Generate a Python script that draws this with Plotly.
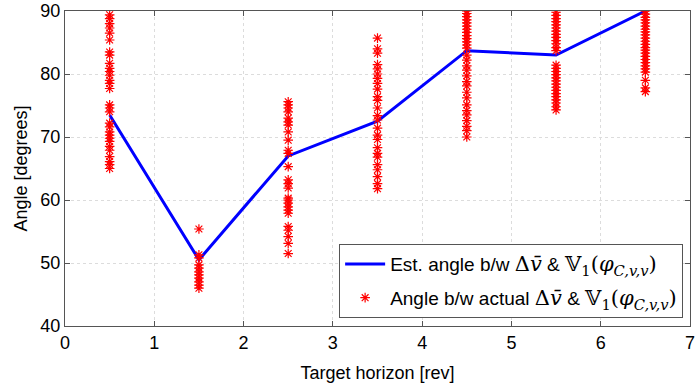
import plotly.graph_objects as go

# Target horizons (rev) and the estimated angle at each one
horizon = [0.5, 1.5, 2.5, 3.5, 4.5, 5.5, 6.5]
est_angle = [73.5, 50.5, 67.0, 72.5, 83.7, 83.0, 90.0]

# Actual angles observed at each horizon (degrees)
actual_h05 = [89.4, 88.8, 88.0, 87.3, 86.5, 85.4, 83.5, 83.0, 81.7, 80.9, 80.4, 79.8,
              79.0, 78.5, 77.7, 75.1, 74.6, 74.0, 72.2, 71.6, 70.8, 70.3, 69.8, 69.3,
              68.5, 67.9, 66.9, 66.1, 65.6, 65.0]
actual_h15 = [51.3, 50.8, 49.7, 49.2, 48.6, 48.1, 47.6, 47.0, 46.5, 46.0, 55.4]
actual_h25 = [75.6, 75.1, 74.6, 74.0, 73.0, 72.4, 71.9, 70.8, 69.5, 67.9, 67.4, 65.3,
              63.2, 62.6, 61.9, 60.3, 60.0, 59.5, 58.9, 58.4, 57.9, 55.8, 55.2, 54.2,
              53.1, 51.5]
actual_h35 = [85.7, 84.0, 83.3, 81.5, 80.8, 80.0, 79.3, 78.5, 77.6, 76.4, 75.8, 74.6,
              73.4, 72.7, 71.4, 70.3, 69.6, 68.3, 67.4, 66.8, 65.6, 64.8, 63.7, 62.6,
              61.8]
actual_h45 = [90.0, 89.6, 89.1, 88.6, 88.1, 87.6, 87.1, 86.6, 86.1, 85.6, 85.1, 84.6,
              84.1, 83.0, 82.2, 81.3, 80.6, 79.7, 78.8, 78.1, 77.1, 76.2, 75.1, 74.2,
              73.5, 72.6, 71.7, 71.0, 70.0]
actual_h55 = [89.8, 89.3, 88.8, 88.3, 87.8, 87.3, 86.8, 86.3, 85.8, 85.3, 84.8, 84.2,
              83.7, 81.4, 80.9, 80.4, 79.9, 79.4, 78.9, 78.4, 77.9, 77.4, 76.9, 76.4,
              75.9, 75.4, 74.8, 74.3]
actual_h65 = [90.0, 89.5, 89.0, 88.6, 88.1, 87.6, 87.1, 86.7, 86.2, 85.7, 85.2, 84.7,
              84.2, 83.8, 83.3, 82.8, 82.3, 81.8, 81.3, 80.8, 80.3, 79.0, 77.8, 77.2]

actual_sets = [actual_h05, actual_h15, actual_h25, actual_h35,
               actual_h45, actual_h55, actual_h65]

scatter_x = []
scatter_y = []
for h, vals in zip(horizon, actual_sets):
    scatter_x += [h] * len(vals)
    scatter_y += vals

MATH_STYLE = "font-family:'DejaVu Serif';font-size:21px"
math_est = (f'<span style="{MATH_STYLE}">Δ<i>v̄</i></span> &amp; '
            f'<span style="{MATH_STYLE}">𝕍<sub>1</sub>(<i>φ</i>'
            '<sub><i>C,v,v</i></sub>)</span>')

FONT = "Liberation Sans, Arial, sans-serif"

fig = go.Figure()
fig.add_trace(go.Scatter(
    x=horizon, y=est_angle, mode="lines",
    line=dict(color="#0000ff", width=3),
    name="Est. angle b/w " + math_est,
    legendgroup="est",
))
fig.add_trace(go.Scatter(
    x=scatter_x, y=scatter_y, mode="markers",
    marker=dict(symbol="asterisk-open", size=8, color="#ff0000",
                line=dict(color="#ff0000", width=1.2)),
    name="Angle b/w actual " + math_est,
    legendgroup="actual",
))

axis_common = dict(
    showline=True, linecolor="#555555", linewidth=1, mirror="ticks",
    ticks="inside", ticklen=5, tickcolor="#555555",
    showgrid=True, gridcolor="#dcdcdc", griddash="dot", gridwidth=1,
    zeroline=False, automargin=False,
    tickfont=dict(family=FONT, size=18, color="#000000"),
    title_font=dict(family=FONT, size=18, color="#000000"),
)

fig.update_layout(
    width=696, height=383,
    margin=dict(l=65, r=6, t=11, b=57),
    paper_bgcolor="white", plot_bgcolor="white",
    xaxis=dict(range=[0, 7], dtick=1, title=dict(text="Target horizon [rev]", standoff=14),
               **axis_common),
    yaxis=dict(range=[40, 90], dtick=10, title=dict(text="Angle [degrees]", standoff=8),
               **axis_common),
    legend=dict(
        x=0.989, y=0.025, xanchor="right", yanchor="bottom",
        bgcolor="white", bordercolor="#555555", borderwidth=1,
        font=dict(family=FONT, size=19, color="#000000"),
        itemwidth=40, tracegroupgap=6,
    ),
    showlegend=True,
)

fig.write_html("out.html")
